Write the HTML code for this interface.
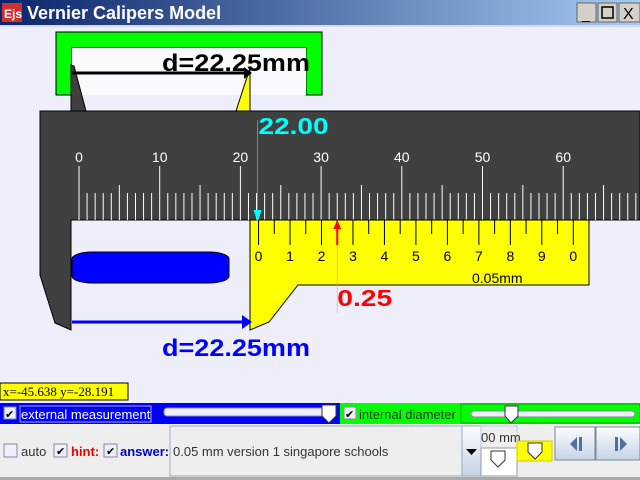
<!DOCTYPE html>
<html><head><meta charset="utf-8"><style>
body{margin:0;width:640px;height:480px;overflow:hidden;background:#efeffb;font-family:"Liberation Sans",sans-serif;}
svg{position:absolute;left:0;top:0}
</style></head><body>
<svg id="s" width="640" height="480" xmlns="http://www.w3.org/2000/svg">
<defs><linearGradient id="tb" x1="0" x2="1"><stop offset="0" stop-color="#0a246a"/><stop offset="1" stop-color="#a6caf0"/></linearGradient>
<linearGradient id="btn" x1="0" y1="0" x2="0" y2="1"><stop offset="0" stop-color="#fdfdff"/><stop offset="1" stop-color="#c6d3e6"/></linearGradient></defs>
<rect x="0" y="0" width="640" height="25" fill="url(#tb)"/>
<rect x="2" y="3" width="20" height="19" fill="#d03030"/>
<text x="4" y="18" font-size="12" font-weight="bold" fill="#fff">Ejs</text>
<text x="27" y="19" font-size="18" font-weight="bold" fill="#fff">Vernier Calipers Model</text>
<g>
<rect x="577" y="3" width="19" height="19" fill="#d4d0c8" stroke="#666"/><text x="582" y="19" font-size="14">_</text>
<rect x="598" y="3" width="19" height="19" fill="#d4d0c8" stroke="#666"/><rect x="602" y="7" width="11" height="11" fill="none" stroke="#000" stroke-width="1.5"/>
<rect x="619" y="3" width="21" height="19" fill="#d4d0c8" stroke="#666"/><text x="623" y="19" font-size="16">X</text></g>
<rect x="0" y="25" width="640" height="2" fill="#d8d8e8"/>
<path d="M56,32H322V95H306V48H72V95H56Z" fill="#00ff00" stroke="#000"/>
<rect x="72" y="48" width="234" height="47" fill="#fbfbff"/>
<path d="M71,65L74,66L86,111H71Z" fill="#404040" stroke="#000"/>
<path d="M250,68L236,111H250Z" fill="#ffff00" stroke="#000"/>
<line x1="71" y1="73" x2="244" y2="73" stroke="#000" stroke-width="3"/><path d="M244,67L252,73L244,79Z" fill="#000"/>
<text x="162" y="71" font-size="24" font-weight="bold" fill="#000" textLength="148" lengthAdjust="spacingAndGlyphs">d=22.25mm</text>
<path d="M40,111H640V220H71V330L55,323L40,275Z" fill="#404040" stroke="#000"/>
<g id="mainTicks"></g>
<path d="M250,220H589V285H298L269,322L250,330Z" fill="#ffff00" stroke="#000"/>
<g id="vTicks"></g>
<text x="472" y="283" font-size="14" fill="#000">0.05mm</text>
<rect x="72" y="252" width="157" height="31" rx="20" ry="7" fill="#0000ff" stroke="#000"/>
<line x1="72" y1="322" x2="243" y2="322" stroke="#0000ff" stroke-width="3"/><path d="M242,315L252,322L242,329Z" fill="#0000ff"/>
<text x="162" y="356" font-size="24" font-weight="bold" fill="#0000ff" textLength="148" lengthAdjust="spacingAndGlyphs">d=22.25mm</text>
<g id="marks"></g>
<rect x="0" y="383" width="128" height="17" fill="#ffff00" stroke="#000"/>
<text x="3" y="396" font-family="Liberation Serif,serif" font-size="13">x=-45.638 y=-28.191</text>
<rect x="0" y="403" width="340" height="21" fill="#0000ff"/>
<rect x="4" y="407" width="12" height="12" fill="#eef" stroke="#889"/><text x="5" y="418" font-size="11">✔</text>
<rect x="20" y="406" width="131" height="16" fill="none" stroke="#aac"/>
<text x="21" y="419" font-size="13" fill="#fff">external measurement</text>
<rect x="164" y="408" width="172" height="8" rx="3" fill="#eef" stroke="#889"/>
<path d="M322,405H336V416L329,423L322,416Z" fill="#fff" stroke="#333"/>
<rect x="340" y="403" width="300" height="21" fill="#00ff00"/>
<rect x="461" y="404" width="179" height="19" fill="none" stroke="#0a0"/>
<rect x="344" y="407" width="12" height="12" fill="#eef" stroke="#889"/><text x="345" y="418" font-size="11">✔</text>
<text x="359" y="419" font-size="13" fill="#333">internal diameter</text>
<rect x="471" y="411" width="164" height="6" rx="3" fill="#eef" stroke="#889"/>
<path d="M505,406H518V416L511,423L505,416Z" fill="#fff" stroke="#333"/>
<rect x="0" y="424" width="640" height="54" fill="#eeeeee"/>
<rect x="0" y="477" width="640" height="3" fill="#aaa"/>
<rect x="4" y="444" width="13" height="13" fill="#eef" stroke="#889"/>
<text x="21" y="456" font-size="13" fill="#333">auto</text>
<rect x="54" y="444" width="13" height="13" fill="#eef" stroke="#889"/><text x="56" y="455" font-size="11">✔</text>
<text x="71" y="456" font-size="13" font-weight="bold" fill="#e00">hint:</text>
<rect x="104" y="444" width="13" height="13" fill="#eef" stroke="#889"/><text x="106" y="455" font-size="11">✔</text>
<text x="120" y="456" font-size="13" font-weight="bold" fill="#00c">answer:</text>
<rect x="170" y="426" width="292" height="50" fill="#eeeeee" stroke="#9ab"/>
<text x="173" y="456" font-size="13" fill="#333">0.05 mm version 1 singapore schools</text>
<rect x="462" y="426" width="19" height="50" fill="url(#btn)" stroke="#9ab"/>
<path d="M466,449H477L471.5,455Z" fill="#000"/>
<rect x="481" y="426" width="36" height="22" fill="#eee" stroke="#bcd"/><text x="481" y="442" font-size="13" fill="#333">00 mm</text>
<rect x="481" y="448" width="36" height="28" fill="#fff" stroke="#999"/>
<path d="M491,451H505V460L498,467L491,460Z" fill="#fff" stroke="#333"/>
<rect x="517" y="441" width="35" height="20" fill="#ffff00" stroke="#cc0"/>
<path d="M528,443H542V452L535,459L528,452Z" fill="#fff" stroke="#333"/>
<rect x="555" y="427" width="40" height="33" fill="url(#btn)" stroke="#789"/>
<path d="M577,437V451L570,444Z M579,437H582V451H579Z" fill="#5070a0"/>
<rect x="596" y="427" width="44" height="33" fill="url(#btn)" stroke="#789"/>
<path d="M620,437V451L627,444Z M615,437H618V451H615Z" fill="#5070a0"/>
</svg>
<script>
const mainLabels=[0,10,20,30,40,50,60];
const reading=22.25;
const mainValue=22.00;
const vernierFraction=0.25;
const vernierLabels=["0","1","2","3","4","5","6","7","8","9","0"];
const NS="http://www.w3.org/2000/svg";
const x0=79,ppm=8.07;
function xs(mm){return x0+mm*ppm;}
function mk(t,a,p){const e=document.createElementNS(NS,t);for(const k in a)e.setAttribute(k,a[k]);p.appendChild(e);return e;}
const mt=document.getElementById('mainTicks');
for(let mm=0;xs(mm)<=640;mm++){
  const y1=mm%10===0?166:(mm%5===0?185:193);
  const l=mk('line',{x1:xs(mm),x2:xs(mm),y1:y1,y2:220,stroke:'#fff','stroke-width':1},mt);
  
  
}
mainLabels.forEach(v=>{const t=mk('text',{x:xs(v),y:162,'text-anchor':'middle','font-size':14,fill:'#fff'},mt);t.textContent=v;
  
  });
const vt=document.getElementById('vTicks');
const vx0=xs(reading),vstep=1.95*ppm;
for(let i=0;i<=20;i++){
  const x=vx0+i*vstep;
  const l=mk('line',{x1:x,x2:x,y1:220,y2:i%2===0?245:234,stroke:'#000'},vt);
  
  
}
vernierLabels.forEach((s,i)=>{const t=mk('text',{x:vx0+i*2*vstep,y:261,'text-anchor':'middle','font-size':14,fill:'#000'},vt);t.textContent=s;
  
  });
const m=document.getElementById('marks');
const cx=xs(mainValue)+1;
mk('line',{x1:cx,x2:cx,y1:120,y2:214,stroke:'#2aa'},m);
mk('path',{d:`M${cx-4},210L${cx},222L${cx+4},210Z`,fill:'#00ffff'},m);
const ct=mk('text',{x:cx+1,y:134,'font-size':23,'font-weight':'bold',fill:'#00ffff',textLength:70,lengthAdjust:'spacingAndGlyphs'},m);ct.textContent=mainValue.toFixed(2);


const redX=vx0+(vernierFraction/0.05)*vstep;
mk('line',{x1:redX,x2:redX,y1:245,y2:313,stroke:'#f99','stroke-width':0.7},m);
mk('line',{x1:redX,x2:redX,y1:226,y2:245,stroke:'#f00','stroke-width':2},m);
mk('path',{d:`M${redX-4},229L${redX},220L${redX+4},229Z`,fill:'#f00'},m);
const rt=mk('text',{x:redX,y:306,'font-size':23,'font-weight':'bold',fill:'#f00',textLength:55,lengthAdjust:'spacingAndGlyphs'},m);rt.textContent=vernierFraction.toFixed(2);


</script>
</body></html>
